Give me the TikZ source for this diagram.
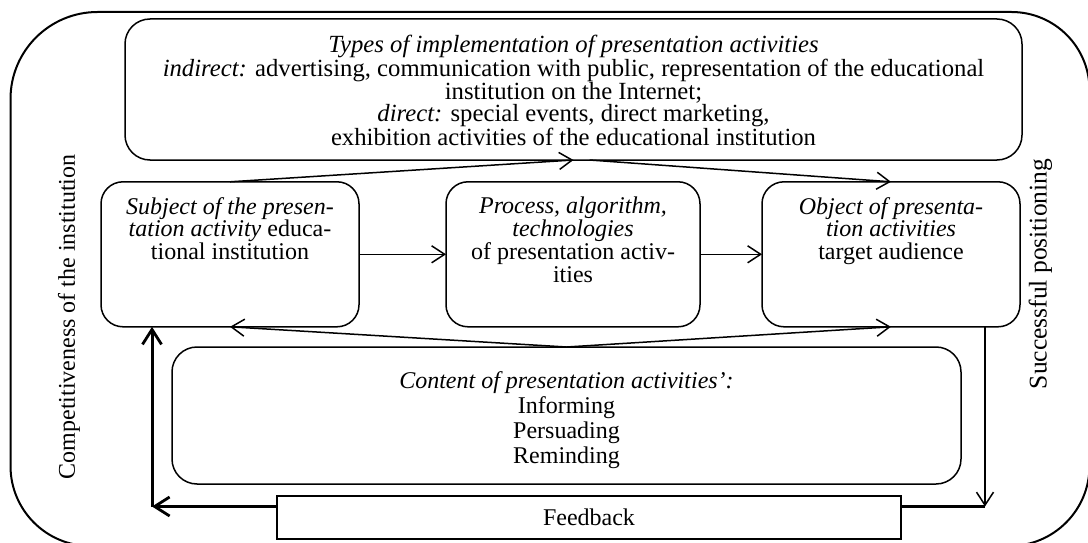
\documentclass[tikz,border=0pt]{standalone}
\usepackage{fontspec}
\setmainfont{Liberation Serif}
\usetikzlibrary{arrows.meta,calc}
\begin{document}
\begin{tikzpicture}[x=1pt,y=-1pt,
  frame/.style={line width=2pt},
  box/.style={draw, line width=1.5pt, rounded corners=22pt, inner sep=0pt, outer sep=0pt},
  bigbox/.style={box, rounded corners=25pt},
  fbbox/.style={draw, line width=1.5pt, inner sep=0pt, outer sep=0pt},
  txt/.style={align=center, inner sep=0pt, outer sep=0pt, font=\fontsize{24}{22.7}\selectfont},
  toptxt/.style={txt, font=\fontsize{24.7}{22.7}\selectfont},
  sidetxt/.style={txt, font=\fontsize{25.5}{22.7}\selectfont},
  ctxt/.style={align=center, inner sep=0pt, outer sep=0pt, font=\fontsize{24}{25}\selectfont},
  arr/.style={line width=1.5pt, -{Straight Barb[length=13pt,width=17pt,line width=1.5pt]}},
  tarr/.style={line width=3pt, -{Straight Barb[length=15pt,width=19pt,line width=2.8pt]}},
  tline/.style={line width=3pt}
]
\useasboundingbox (0,0) rectangle (1088,543);

% outer frame
\draw[frame] (10.5,466) -- (10.5,99)
  .. controls (10.5,50.95) and (49.45,12) .. (97.5,12)
  -- (1011.5,12)
  .. controls (1054.58,12) and (1089.5,46.92) .. (1089.5,90)
  -- (1089.5,466)
  .. controls (1089.5,510.18) and (1053.68,546) .. (1009.5,546)
  -- (90.5,546)
  .. controls (46.32,546) and (10.5,510.18) .. (10.5,466) -- cycle;

% boxes
\node[bigbox, minimum width=897pt, minimum height=141pt] (top) at (573.5,89.5) {};
\node[box, minimum width=258pt, minimum height=145pt] (subj) at (230,254.3) {};
\node[box, minimum width=254pt, minimum height=145pt] (proc) at (573,254.3) {};
\node[box, minimum width=258pt, minimum height=145pt] (obj) at (891,254.3) {};
\node[bigbox, minimum width=789pt, minimum height=137pt] (cont) at (566.5,415.5) {};
\node[fbbox, minimum width=624pt, minimum height=43pt] (fb) at (589,517.5) {};

% texts
\node[toptxt] (toptext) at ([yshift=-1pt]top.center) {\textit{Types of implementation of presentation activities}\\
\textit{indirect:} advertising, communication with public, representation of the educational\\
institution on the Internet;\\
\textit{direct:} special events, direct marketing,\\
exhibition activities of the educational institution};
\node[txt, anchor=north] (subjtxt) at ([yshift=-15.5pt]subj.north) {\textit{Subject of the presen-}\\
\textit{tation activity} educa-\\
tional institution};
\node[txt, anchor=north] (proctxt) at ([yshift=-15.5pt]proc.north) {\textit{Process, algorithm,}\\
\textit{technologies}\\
of presentation activ-\\
ities};
\node[txt, anchor=north] (objtxt) at ([yshift=-15.5pt]obj.north) {\textit{Object of presenta-}\\
\textit{tion activities}\\
target audience};
\node[ctxt, anchor=north] (conttxt) at ([yshift=-25pt]cont.north) {\textit{Content of presentation activities’:}\\
Informing\\
Persuading\\
Reminding};
\node[txt] (fbtxt) at (fb.center) {Feedback};
\node[txt, rotate=90] (comp) at (69,317) {Competitiveness of the institution};
\node[sidetxt, rotate=90] (succ) at (1040.5,274) {Successful positioning};

% connectors
\draw[arr] (subj.north) -- (top.south);
\draw[arr] ([xshift=16pt]top.south) -- (obj.north);
\draw[arr] (subj.east) -- (proc.west);
\draw[arr] (proc.east) -- (obj.west);
\draw[arr] (cont.north) -- (subj.south);
\draw[arr] (cont.north) -- (obj.south);

\coordinate (fl) at (152,506.5);
\coordinate (fr) at (985,506.5);
\draw[tarr] ([yshift=-10.5pt]fb.north west) -- (fl);
\draw[tarr] (fl) -- (fl |- subj.south);
\draw[arr] (fr |- obj.south) -- (fr);
\draw[tline] ([yshift=-10.5pt]fb.north east) -- (fr);
\end{tikzpicture}
\end{document}
